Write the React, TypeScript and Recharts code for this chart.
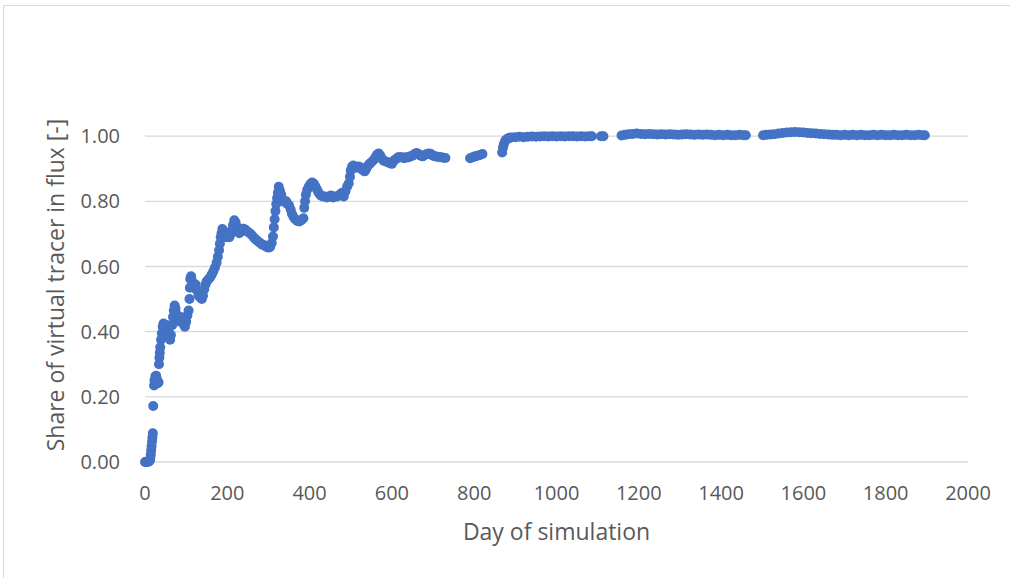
import React from 'react';
import { ScatterChart, Scatter, XAxis, YAxis, ReferenceLine, Label } from 'recharts';

const xTicks = [0, 200, 400, 600, 800, 1000, 1200, 1400, 1600, 1800, 2000];
const yTicks = [0, 0.2, 0.4, 0.6, 0.8, 1.0];

// [day, share] – initial breakthrough
const rampPoints: [number, number][] = [
  [0, 0], [2, 0], [4, 0], [6, 0.001], [8, 0.001], [10, 0.002], [12, 0.005], [13, 0.012], [14, 0.022],
  [15, 0.035], [16, 0.048], [17, 0.062], [18, 0.075], [19, 0.088], [20, 0.172],
  [22, 0.235], [23, 0.25], [25, 0.262], [27, 0.265], [29, 0.255], [31, 0.242], [33, 0.245],
  [34, 0.3], [35, 0.32], [36, 0.335], [37, 0.352], [39, 0.375], [41, 0.395], [43, 0.415],
  [45, 0.425], [47, 0.41], [49, 0.395], [51, 0.405], [54, 0.42], [57, 0.4], [59, 0.385],
  [61, 0.375], [63, 0.39], [66, 0.42], [68, 0.445], [70, 0.465], [72, 0.48], [74, 0.472],
  [76, 0.455], [79, 0.44], [82, 0.432], [86, 0.445], [90, 0.432], [94, 0.422], [97, 0.415],
  [100, 0.43], [103, 0.45], [106, 0.465], [108, 0.5], [109, 0.535], [110, 0.562],
];

// [day, share] – rising phase with fluctuations
const climbPoints: [number, number][] = [
  [112, 0.57], [114, 0.556], [117, 0.542], [120, 0.535], [123, 0.545], [126, 0.527],
  [130, 0.512], [134, 0.505], [138, 0.5], [141, 0.51], [144, 0.53], [147, 0.545],
  [150, 0.555], [154, 0.56], [158, 0.566], [162, 0.575], [166, 0.585], [170, 0.597],
  [174, 0.612], [177, 0.63], [180, 0.65], [182, 0.67], [184, 0.69], [186, 0.702],
  [188, 0.715], [190, 0.706], [193, 0.7], [196, 0.69], [199, 0.695], [202, 0.7],
  [205, 0.69], [208, 0.7], [211, 0.712], [214, 0.727], [217, 0.742], [220, 0.736],
  [223, 0.722], [226, 0.715], [229, 0.702], [232, 0.706], [236, 0.716], [240, 0.716],
  [245, 0.712], [250, 0.706], [255, 0.702], [260, 0.696], [265, 0.688], [270, 0.682],
  [275, 0.677], [280, 0.672], [285, 0.667], [290, 0.665], [295, 0.661], [300, 0.658],
  [304, 0.66], [308, 0.672], [311, 0.692], [313, 0.72], [315, 0.745], [317, 0.77],
  [319, 0.792], [321, 0.81], [323, 0.826], [325, 0.845], [328, 0.832], [331, 0.82],
  [334, 0.806], [337, 0.8], [340, 0.797], [343, 0.8], [346, 0.792], [350, 0.788],
  [354, 0.775], [357, 0.762], [361, 0.752], [365, 0.745], [370, 0.74], [375, 0.738],
  [380, 0.742], [385, 0.748], [387, 0.78], [389, 0.8], [391, 0.82], [394, 0.835],
  [398, 0.845], [402, 0.853], [406, 0.858], [410, 0.855], [414, 0.846], [418, 0.836],
  [422, 0.826], [427, 0.818], [432, 0.815], [437, 0.815], [442, 0.812], [447, 0.815],
  [452, 0.818], [457, 0.812], [462, 0.815], [467, 0.815], [471, 0.818], [475, 0.822],
  [479, 0.826], [483, 0.815], [487, 0.83], [491, 0.845], [495, 0.855], [498, 0.875],
  [500, 0.895], [503, 0.906], [506, 0.91], [510, 0.905],
];

// [day, share] – approach to plateau
const plateauPoints: [number, number][] = [
  [514, 0.903], [518, 0.907], [522, 0.905], [526, 0.9], [530, 0.895], [534, 0.892],
  [538, 0.9], [542, 0.91], [546, 0.915], [550, 0.92], [555, 0.926], [560, 0.935],
  [564, 0.944], [568, 0.947], [572, 0.94], [576, 0.93], [580, 0.925], [585, 0.922],
  [590, 0.92], [595, 0.917], [600, 0.915], [605, 0.925], [610, 0.93], [615, 0.935],
  [620, 0.935], [625, 0.935], [630, 0.932], [635, 0.935], [640, 0.935], [645, 0.938],
  [650, 0.94], [655, 0.945], [660, 0.948], [665, 0.945], [670, 0.94], [675, 0.938],
  [680, 0.942], [685, 0.945], [690, 0.947], [695, 0.945], [700, 0.94], [705, 0.938],
  [710, 0.937], [715, 0.936], [720, 0.935], [725, 0.934], [730, 0.933],
  [790, 0.932], [796, 0.935], [802, 0.938], [808, 0.94], [814, 0.942], [820, 0.945],
  [868, 0.95], [870, 0.965], [872, 0.975], [875, 0.985], [878, 0.99], [882, 0.993],
  [886, 0.995], [890, 0.996],
];

// [day, share] – steady state
const steadyPoints: [number, number][] = [
  [900, 0.997], [910, 0.998], [920, 0.997], [930, 0.998], [940, 0.999], [950, 0.998],
  [960, 0.999], [970, 1.0], [980, 0.999], [990, 1.0], [1000, 0.999], [1010, 1.0],
  [1020, 0.999], [1030, 1.0], [1040, 1.0], [1050, 0.999], [1060, 1.0], [1070, 0.999],
  [1080, 1.0], [1086, 1.0], [1108, 1.0], [1114, 1.0],
  [1158, 1.002], [1166, 1.004], [1175, 1.006], [1185, 1.007], [1195, 1.008], [1205, 1.007],
  [1215, 1.006], [1225, 1.007], [1235, 1.006], [1245, 1.005], [1255, 1.006], [1265, 1.005],
  [1275, 1.006], [1285, 1.005], [1295, 1.004], [1305, 1.005], [1315, 1.006], [1325, 1.005],
  [1335, 1.004], [1345, 1.005], [1355, 1.004], [1365, 1.005], [1375, 1.004], [1385, 1.003],
  [1395, 1.004], [1405, 1.003], [1415, 1.004], [1425, 1.003], [1435, 1.003], [1445, 1.004],
  [1455, 1.003], [1460, 1.003],
  [1502, 1.003], [1510, 1.004], [1520, 1.005], [1530, 1.006], [1540, 1.008], [1550, 1.01],
  [1560, 1.011], [1570, 1.012], [1580, 1.013], [1590, 1.012], [1600, 1.011], [1610, 1.01],
  [1620, 1.009], [1630, 1.008], [1640, 1.007], [1650, 1.006], [1660, 1.005], [1670, 1.004],
  [1680, 1.004], [1690, 1.003], [1700, 1.004], [1710, 1.003], [1720, 1.004], [1730, 1.003],
  [1740, 1.004], [1750, 1.003], [1760, 1.003], [1770, 1.004], [1780, 1.003], [1790, 1.004],
  [1800, 1.003], [1810, 1.003], [1820, 1.004], [1830, 1.003], [1840, 1.003], [1850, 1.004],
  [1860, 1.003], [1870, 1.003], [1880, 1.004], [1890, 1.003], [1895, 1.003],
];

const data = [...rampPoints, ...climbPoints, ...plateauPoints, ...steadyPoints].map(
  ([day, share]) => ({ day, share })
);

const textColor = '#595959';
const gridColor = '#d9d9d9';
const markerColor = '#4472C4';
const font = 'Open Sans';

const Marker = (p: any) => <circle cx={p.cx} cy={p.cy} r={5} fill={markerColor} />;

export default function App() {
  return (
    <div
      style={{
        position: 'absolute',
        left: 0,
        top: 0,
        width: 1010,
        height: 578,
        background: '#ffffff',
        overflow: 'hidden',
      }}
    >
      <div
        style={{
          position: 'absolute',
          left: 3,
          top: 5,
          width: 1020,
          height: 620,
          border: '1px solid #d9d9d9',
        }}
      />
      <ScatterChart width={1010} height={578} margin={{ top: 71, right: 42, bottom: 36, left: 85 }}>
        <XAxis
          type="number"
          dataKey="day"
          domain={[0, 2000]}
          ticks={xTicks}
          interval={0}
          axisLine={false}
          tickLine={false}
          tickSize={0}
          tickMargin={24}
          height={80}
          tick={{ fill: textColor, fontSize: 20, fontFamily: font }}
        >
          <Label
            value="Day of simulation"
            position="insideBottom"
            offset={2}
            fill={textColor}
            fontSize={23}
            fontFamily={font}
          />
        </XAxis>
        <YAxis
          type="number"
          dataKey="share"
          domain={[0, 1.2]}
          ticks={yTicks}
          interval={0}
          axisLine={false}
          tickLine={false}
          tickSize={0}
          tickMargin={25}
          width={60}
          tickFormatter={(v: number) => v.toFixed(2)}
          tick={{ fill: textColor, fontSize: 20, fontFamily: font }}
        >
          <Label
            content={() => (
              <text
                x={64}
                y={285}
                transform="rotate(-90, 64, 285)"
                textAnchor="middle"
                fill={textColor}
                fontSize={23}
                fontFamily={font}
              >
                Share of virtual tracer in flux [-]
              </text>
            )}
          />
        </YAxis>
        {yTicks.map((t) => (
          <ReferenceLine key={t} y={t} stroke={gridColor} strokeWidth={1.3} />
        ))}
        <Scatter data={data} fill={markerColor} shape={Marker} isAnimationActive={false} />
      </ScatterChart>
    </div>
  );
}
